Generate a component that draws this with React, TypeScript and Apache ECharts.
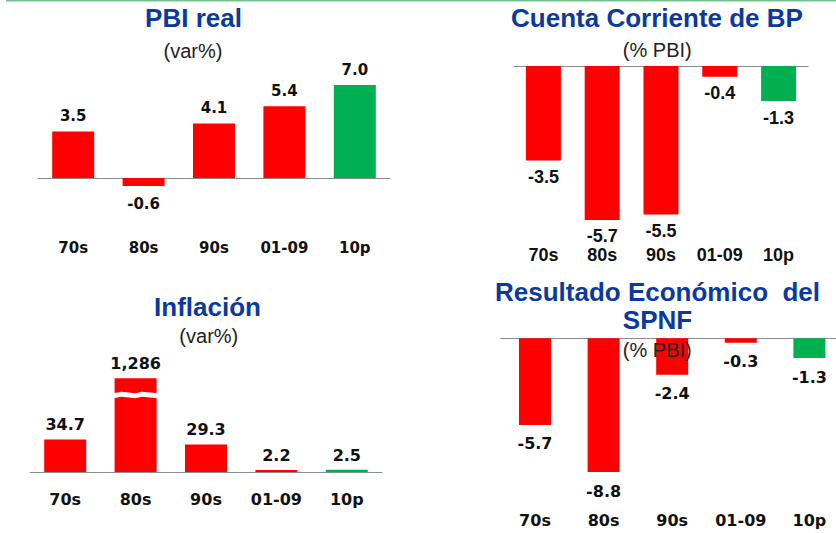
import React, { useEffect, useRef } from 'react';
import * as echarts from 'echarts';

// ---- data ----
const categories = ['70s', '80s', '90s', '01-09', '10p'];
const pbiReal = [3.5, -0.6, 4.1, 5.4, 7.0];
const cuentaCorriente = [-3.5, -5.7, -5.5, -0.4, -1.3];
const inflacion = [34.7, 1286, 29.3, 2.2, 2.5];
const resultadoSPNF = [-5.7, -8.8, -2.4, -0.3, -1.3];
const projectedIndex = 4; // "10p" is the projection (green)

const RED = '#FF0000';
const GREEN = '#00B050';
const TITLE_BLUE = '#0B3A9C';
const AXIS_GRAY = '#8c8c8c';
const VERDANA = '"DejaVu Sans", Verdana, sans-serif';
const ARIAL = '"Liberation Sans", Arial, sans-serif';

function makeData(values: number[], posDist: number, negDist: number) {
  return values.map((v, i) => ({
    value: v,
    itemStyle: { color: i === projectedIndex ? GREEN : RED },
    label: { position: v >= 0 ? 'top' : 'bottom', distance: v >= 0 ? posDist : negDist },
  }));
}

function fmt(v: number) {
  return Math.abs(v) >= 1000 ? v.toLocaleString('en-US') : v.toFixed(1);
}

export default function App() {
  const ref = useRef<HTMLDivElement>(null);

  useEffect(() => {
    if (!ref.current) return;
    const chart = echarts.init(ref.current, undefined, { renderer: 'svg' });

    const panels = [
      { values: pbiReal, grid: { left: 38, top: 71.6, width: 352, height: 133 }, min: -2, max: 8, barWidth: 42, font: VERDANA, size: 15, margin: 35.4, pos: 7.5, neg: 11 },
      { values: cuentaCorriente, grid: { left: 514, top: 66, width: 294, height: 162 }, min: -6, max: 0, barWidth: 35, font: ARIAL, size: 18, margin: 17.8, pos: 7.5, neg: 7.5 },
      { values: inflacion, grid: { left: 30, top: 365, width: 352, height: 107 }, min: 0, max: 1300, barWidth: 42, font: VERDANA, size: 16, margin: 19, pos: 6.5, neg: 6.5, breaks: true },
      { values: resultadoSPNF, grid: { left: 500.7, top: 338.3, width: 343, height: 152 }, min: -10, max: 0, barWidth: 32, font: VERDANA, size: 16, margin: 22, pos: 11, neg: 11 },
    ];

    const titleText = (text: string, x: number, y: number, extra: any = {}) => ({
      type: 'text',
      x,
      y,
      z: 100,
      style: {
        text,
        fill: TITLE_BLUE,
        font: `bold 26px ${ARIAL}`,
        textAlign: 'center',
        textVerticalAlign: 'middle',
        ...extra,
      },
    });
    const subText = (text: string, x: number, y: number) => ({
      type: 'text',
      x,
      y,
      z: 100,
      style: {
        text,
        fill: '#222',
        font: `20px ${ARIAL}`,
        textAlign: 'center',
        textVerticalAlign: 'middle',
      },
    });

    const option: any = {
      animation: false,
      backgroundColor: '#ffffff',
      grid: panels.map((p) => ({ ...p.grid, containLabel: false, outerBoundsMode: 'none' })),
      xAxis: panels.map((p, i) => ({
        type: 'category',
        gridIndex: i,
        data: categories,
        axisLine: { onZero: true, lineStyle: { color: AXIS_GRAY, width: 1 } },
        axisTick: { show: false },
        axisLabel: {
          interval: 0,
          hideOverlap: false,
          margin: p.margin,
          fontFamily: p.font,
          fontWeight: 'bold',
          fontSize: p.size,
          color: '#111',
        },
      })),
      yAxis: panels.map((p, i) => {
        const ax: any = {
          type: 'value',
          gridIndex: i,
          min: p.min,
          max: p.max,
          axisLine: { show: false },
          axisTick: { show: false },
          axisLabel: { show: false },
          splitLine: { show: false },
        };
        if (p.breaks) {
          ax.breaks = [{ start: 80, end: 1271, gap: 5 }];
          ax.breakArea = {
            show: true,
            expandOnClick: false,
            zigzagAmplitude: 0.8,
            zigzagZ: 100,
            itemStyle: { color: '#ffffff', borderColor: '#ffffff', borderWidth: 0, opacity: 1 },
          };
        }
        return ax;
      }),
      series: panels.map((p, i) => ({
        type: 'bar',
        xAxisIndex: i,
        yAxisIndex: i,
        barWidth: p.barWidth,
        data: makeData(p.values, p.pos, p.neg),
        label: {
          show: true,
          fontFamily: p.font,
          fontWeight: 'bold',
          fontSize: p.size,
          color: '#111',
          formatter: (params: any) => fmt(params.value),
        },
      })),
      graphic: [
        {
          type: 'line',
          z: 100,
          shape: { x1: 6, y1: 0.75, x2: 836, y2: 0.75 },
          style: { stroke: '#72c08f', lineWidth: 1.5 },
        },
        titleText('PBI real', 193.5, 18.3),
        subText('(var%)', 193, 50.5),
        titleText('Cuenta Corriente de BP', 657, 18.3),
        subText('(% PBI)', 657.3, 49.7),
        titleText('Inflación', 207.5, 307),
        subText('(var%)', 208.8, 336.3),
        titleText('Resultado Económico  del\nSPNF', 657.5, 306, { lineHeight: 28 }),
        subText('(% PBI)', 657.3, 350),
      ],
    };

    chart.setOption(option);
    return () => chart.dispose();
  }, []);

  return (
    <div
      ref={ref}
      style={{ position: 'absolute', left: 0, top: 0, width: 836, height: 533, background: '#fff' }}
    />
  );
}
